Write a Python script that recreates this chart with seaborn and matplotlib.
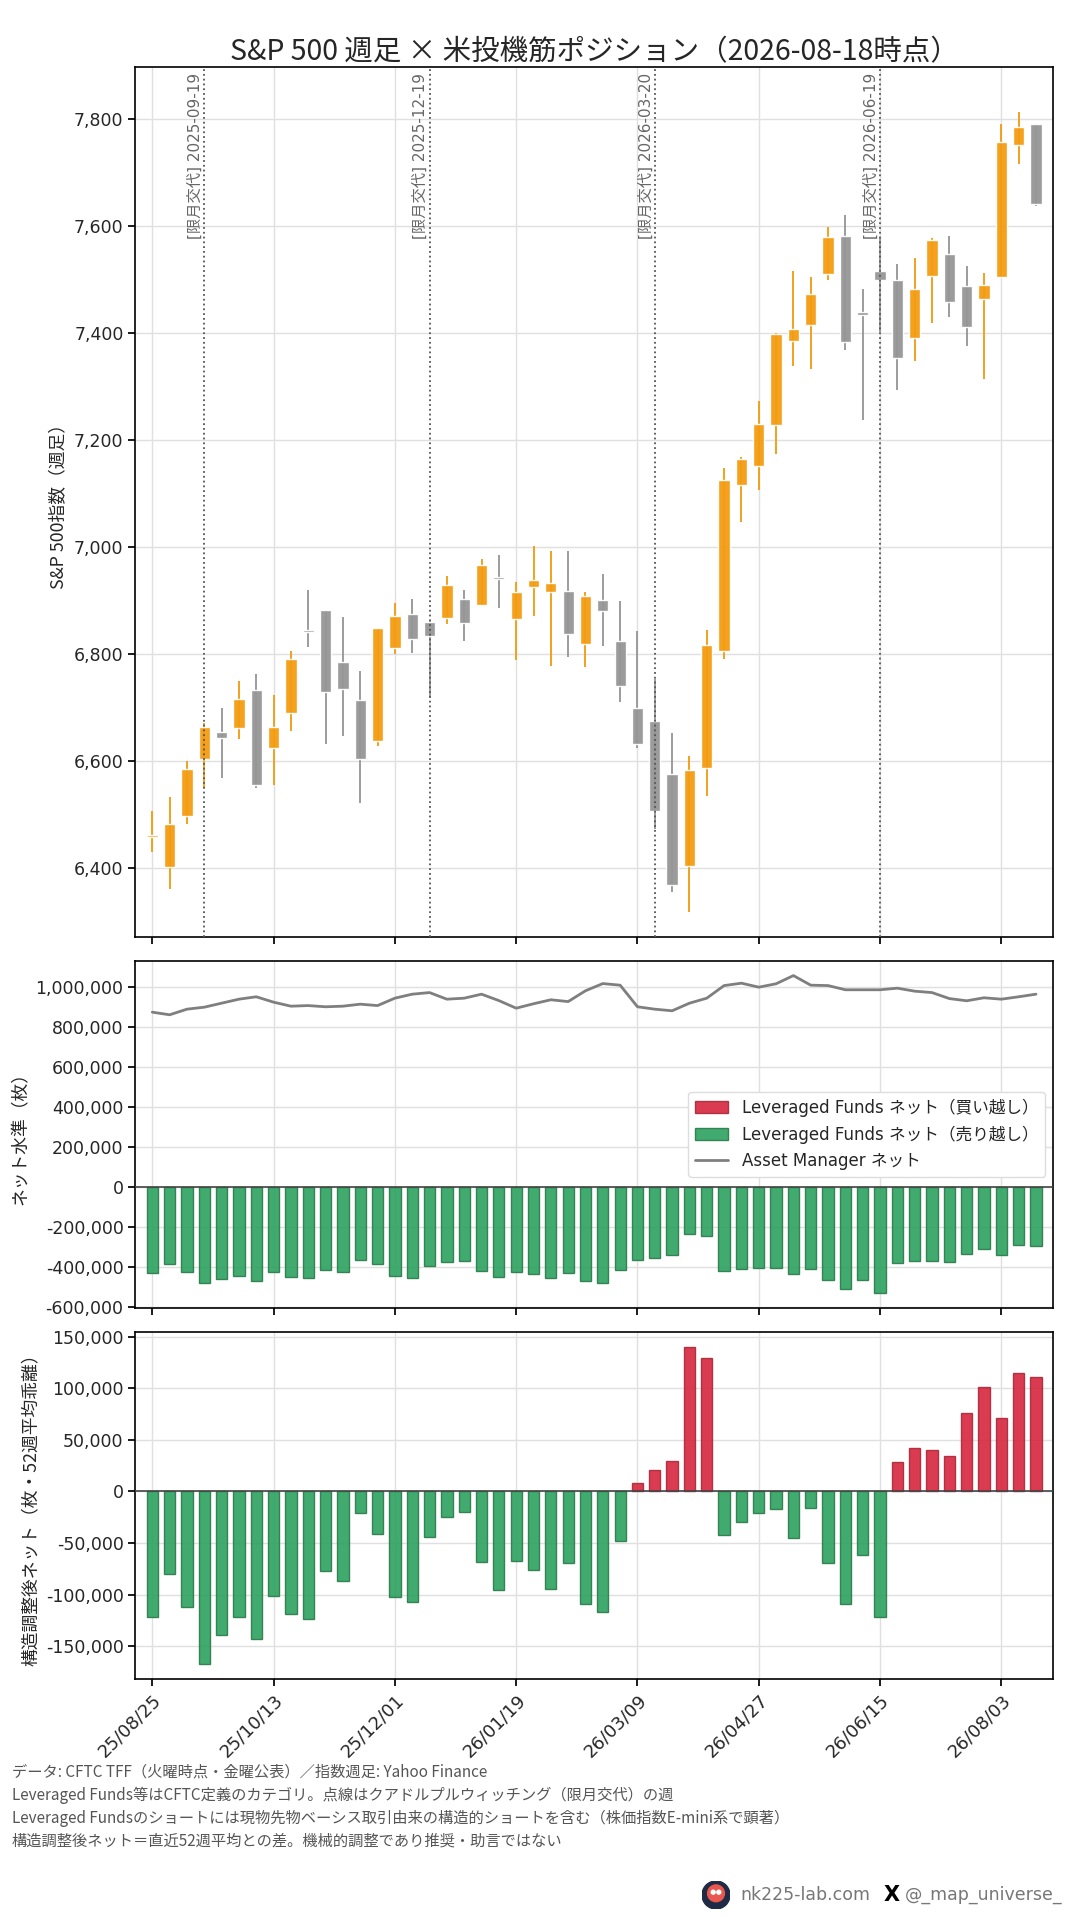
import numpy as np
import pandas as pd
import matplotlib
matplotlib.use('Agg')
import matplotlib.pyplot as plt
import seaborn as sns
from matplotlib.patches import Patch, Circle
from matplotlib.lines import Line2D
from matplotlib.ticker import FuncFormatter, MultipleLocator

# weekly candles (Monday of each week)
weeks = pd.date_range('2025-08-25', periods=52, freq='7D')

opens = [6458, 6403, 6498, 6604, 6655, 6663, 6733, 6624, 6691, 6844, 6883, 6786, 6715,
         6637, 6812, 6875, 6860, 6867, 6903, 6892, 6943, 6866, 6925, 6917, 6918, 6820,
         6902, 6825, 6700, 6675, 6576, 6405, 6588, 6807, 7117, 7152, 7229, 7386, 7416,
         7511, 7582, 7440, 7516, 7500, 7392, 7507, 7548, 7488, 7465, 7506, 7752, 7791]
highs = [6508, 6533, 6600, 6671, 6699, 6751, 6764, 6723, 6807, 6920, 6883, 6869, 6769,
         6850, 6895, 6903, 6862, 6946, 6920, 6978, 6985, 6935, 7002, 6993, 6993, 6916,
         6951, 6900, 6844, 6753, 6652, 6610, 6845, 7148, 7168, 7273, 7400, 7516, 7506,
         7598, 7621, 7482, 7580, 7529, 7540, 7579, 7582, 7525, 7512, 7792, 7814, 7791]
lows = [6430, 6361, 6482, 6551, 6568, 6641, 6551, 6556, 6656, 6813, 6632, 6647, 6522,
        6629, 6801, 6802, 6718, 6856, 6824, 6891, 6886, 6789, 6871, 6779, 6794, 6776,
        6816, 6710, 6625, 6473, 6355, 6318, 6535, 6791, 7047, 7107, 7174, 7339, 7333,
        7499, 7368, 7237, 7403, 7294, 7348, 7420, 7430, 7376, 7314, 7506, 7716, 7638]
closes = [6461, 6483, 6586, 6664, 6644, 6716, 6555, 6664, 6791, 6841, 6730, 6736, 6605,
          6849, 6872, 6829, 6835, 6929, 6859, 6967, 6941, 6917, 6939, 6933, 6837, 6909,
          6880, 6741, 6633, 6508, 6369, 6584, 6817, 7126, 7165, 7230, 7399, 7408, 7473,
          7580, 7384, 7435, 7500, 7354, 7483, 7574, 7459, 7412, 7490, 7757, 7786, 7642]

# CFTC TFF net positions
lev_net = [-427000, -385000, -422000, -480000, -457000, -442000, -467000, -422000, -447000,
           -452000, -412000, -422000, -362000, -382000, -442000, -452000, -392000, -372000,
           -367000, -417000, -447000, -422000, -432000, -452000, -427000, -467000, -480000,
           -412000, -362000, -352000, -340000, -232000, -242000, -417000, -407000, -402000,
           -402000, -432000, -407000, -462000, -507000, -462000, -527000, -377000, -367000,
           -367000, -372000, -332000, -307000, -337000, -287000, -292000]
am_net = [875000, 862000, 890000, 900000, 920000, 940000, 952000, 925000, 905000, 908000,
          902000, 905000, 915000, 908000, 945000, 965000, 973000, 940000, 945000, 965000,
          933000, 895000, 917000, 937000, 928000, 982000, 1018000, 1010000, 902000, 890000,
          882000, 920000, 945000, 1008000, 1020000, 1000000, 1017000, 1058000, 1010000,
          1008000, 987000, 987000, 987000, 995000, 980000, 973000, 943000, 932000, 947000,
          940000, 952000, 965000]
adj_net = [-122000, -80000, -112000, -167000, -139000, -122000, -143000, -101000, -119000,
           -124000, -77000, -87000, -21000, -41000, -102000, -107000, -44000, -25000,
           -20000, -68000, -96000, -67000, -76000, -95000, -69000, -109000, -117000,
           -48000, 8000, 21000, 29000, 140000, 129000, -42000, -30000, -21000, -17000,
           -45000, -16000, -69000, -109000, -62000, -122000, 28000, 42000, 40000, 34000,
           76000, 101000, 71000, 115000, 111000]

roll_dates = ['2025-09-19', '2025-12-19', '2026-03-20', '2026-06-19']

footer_lines = [
    'データ: CFTC TFF（火曜時点・金曜公表）／指数週足: Yahoo Finance',
    'Leveraged Funds等はCFTC定義のカテゴリ。点線はクアドルプルウィッチング（限月交代）の週',
    'Leveraged Fundsのショートには現物先物ベーシス取引由来の構造的ショートを含む（株価指数E-mini系で顕著）',
    '構造調整後ネット＝直近52週平均との差。機械的調整であり推奨・助言ではない',
]

ORANGE = '#f39c12'
GRAY = '#969696'
RED = '#d7263d'
GREEN = '#2ca25f'

sns.set_theme(style='ticks')
plt.rcParams['font.family'] = ['DejaVu Sans', 'Noto Sans CJK JP']
JP = ['Noto Sans CJK JP', 'DejaVu Sans']

df = pd.DataFrame({'x': np.arange(len(weeks)), 'open': opens, 'high': highs,
                   'low': lows, 'close': closes, 'lev': lev_net, 'am': am_net,
                   'adj': adj_net})
df['lev_side'] = np.where(df['lev'] >= 0, 'buy', 'sell')
df['adj_side'] = np.where(df['adj'] >= 0, 'buy', 'sell')

fig = plt.figure(figsize=(10.8, 19.2), dpi=100)
ax1 = fig.add_axes([0.1253, 0.5121, 0.85, 0.4528])
ax2 = fig.add_axes([0.1253, 0.3188, 0.85, 0.1809], sharex=ax1)
ax3 = fig.add_axes([0.1253, 0.1253, 0.85, 0.1811], sharex=ax1)

for ax in (ax1, ax2, ax3):
    ax.grid(True, color='#e0e0e0', lw=1)
    ax.set_axisbelow(True)
    for s in ax.spines.values():
        s.set_color('black')
        s.set_linewidth(1.2)
    ax.tick_params(labelsize=12.5, length=5, color='black')

# --- candles
up = df['close'] >= df['open']
colors = np.where(up, ORANGE, GRAY)
ax1.vlines(df['x'], df['low'], df['high'], colors=colors, lw=1.4, alpha=0.95, zorder=2)
body_lo = np.minimum(df['open'], df['close'])
body_h = np.maximum((df['close'] - df['open']).abs(), 4)
ax1.bar(df['x'], body_h, bottom=body_lo, width=0.65, color=colors, alpha=0.95, zorder=3)

for d in roll_dates:
    i = (pd.Timestamp(d) - weeks[0]).days // 7
    ax1.axvline(i, color='#555555', ls=':', lw=1.3, zorder=4)
    ax1.text(i - 0.08, 0.994, f'[限月交代] {d}', rotation=90, ha='right', va='top',
             transform=ax1.get_xaxis_transform(), fontsize=11, color='#666666')

ax1.set_ylim(6272, 7897)
ax1.yaxis.set_major_locator(MultipleLocator(200))
ax1.set_ylabel('S&P 500指数（週足）', fontsize=12.8, family=JP)
ax1.set_title('S&P 500 週足 × 米投機筋ポジション（2026-08-18時点）', fontsize=20.5,
              family=JP, pad=4)

# --- net levels
pal = {'buy': RED, 'sell': GREEN}
sns.barplot(data=df, x='x', y='lev', hue='lev_side', palette=pal, native_scale=True,
            width=0.65, dodge=False, saturation=1, errorbar=None, legend=False,
            alpha=0.9, edgecolor='#2a7a4a', linewidth=1, ax=ax2)
sns.lineplot(data=df, x='x', y='am', color='#7f7f7f', lw=2, ax=ax2)
ax2.axhline(0, color='#444444', lw=1.2, zorder=3)
ax2.set_ylim(-603500, 1133000)
ax2.yaxis.set_major_locator(MultipleLocator(200000))
ax2.set_ylabel('ネット水準（枚）', fontsize=12.8, family=JP)
ax2.set_xlabel('')
handles = [Patch(facecolor=RED, edgecolor='#a8283a', alpha=0.9),
           Patch(facecolor=GREEN, edgecolor='#2a7a4a', alpha=0.9),
           Line2D([0], [0], color='#7f7f7f', lw=2)]
labels = ['Leveraged Funds ネット（買い越し）', 'Leveraged Funds ネット（売り越し）',
          'Asset Manager ネット']
ax2.legend(handles, labels, loc='center right', fontsize=12, frameon=True,
           edgecolor='#dddddd', framealpha=1)

# --- structure-adjusted net
sns.barplot(data=df, x='x', y='adj', hue='adj_side', palette=pal, native_scale=True,
            width=0.65, dodge=False, saturation=1, errorbar=None, legend=False,
            alpha=0.9, linewidth=1, ax=ax3)
for p in ax3.patches:
    fc = p.get_facecolor()
    p.set_edgecolor('#a8283a' if fc[0] > 0.5 else '#2a7a4a')
ax3.axhline(0, color='#444444', lw=1.2, zorder=3)
ax3.set_ylim(-182200, 154700)
ax3.yaxis.set_major_locator(MultipleLocator(50000))
ax3.set_ylabel('構造調整後ネット（枚・52週平均乖離）', fontsize=12.8, family=JP)
ax3.set_xlabel('')

fmt = FuncFormatter(lambda v, _: f'{v:,.0f}')
for ax in (ax1, ax2, ax3):
    ax.yaxis.set_major_formatter(fmt)

tick_idx = list(range(0, 52, 7))
ax3.set_xticks(tick_idx)
ax3.set_xticklabels([weeks[i].strftime('%y/%m/%d') for i in tick_idx], rotation=45,
                    ha='right', rotation_mode='anchor', fontsize=13)
ax1.tick_params(labelbottom=False)
ax2.tick_params(labelbottom=False)
ax3.set_xlim(-0.98, 52)

# --- footer
for k, line in enumerate(footer_lines):
    fig.text(12 / 1080, 1 - (1772 + 23 * k) / 1920, line, fontsize=11, color='#555555',
             va='center', ha='left', family=JP)

# watermark
logo = fig.add_axes([(716 - 14) / 1080, 1 - (1895 + 14) / 1920, 28 / 1080, 28 / 1920])
logo.set_xlim(0, 1)
logo.set_ylim(0, 1)
logo.set_aspect('equal')
logo.axis('off')
logo.add_patch(Circle((0.5, 0.5), 0.5, color='#1f2a44'))
logo.add_patch(Circle((0.5, 0.56), 0.3, color='#e8584f'))
logo.add_patch(Circle((0.4, 0.6), 0.07, color='white'))
logo.add_patch(Circle((0.6, 0.6), 0.07, color='white'))
fig.text(740 / 1080, 1 - 1895 / 1920, 'nk225-lab.com', fontsize=12.5, color='#777777',
         va='center', ha='left')
fig.text(884 / 1080, 1 - 1895 / 1920, 'X', fontsize=15, color='black', weight='bold',
         va='center', ha='left')
fig.text(905 / 1080, 1 - 1895 / 1920, '@_map_universe_', fontsize=12.5, color='#777777',
         va='center', ha='left')

fig.savefig('out.png', dpi=100)
